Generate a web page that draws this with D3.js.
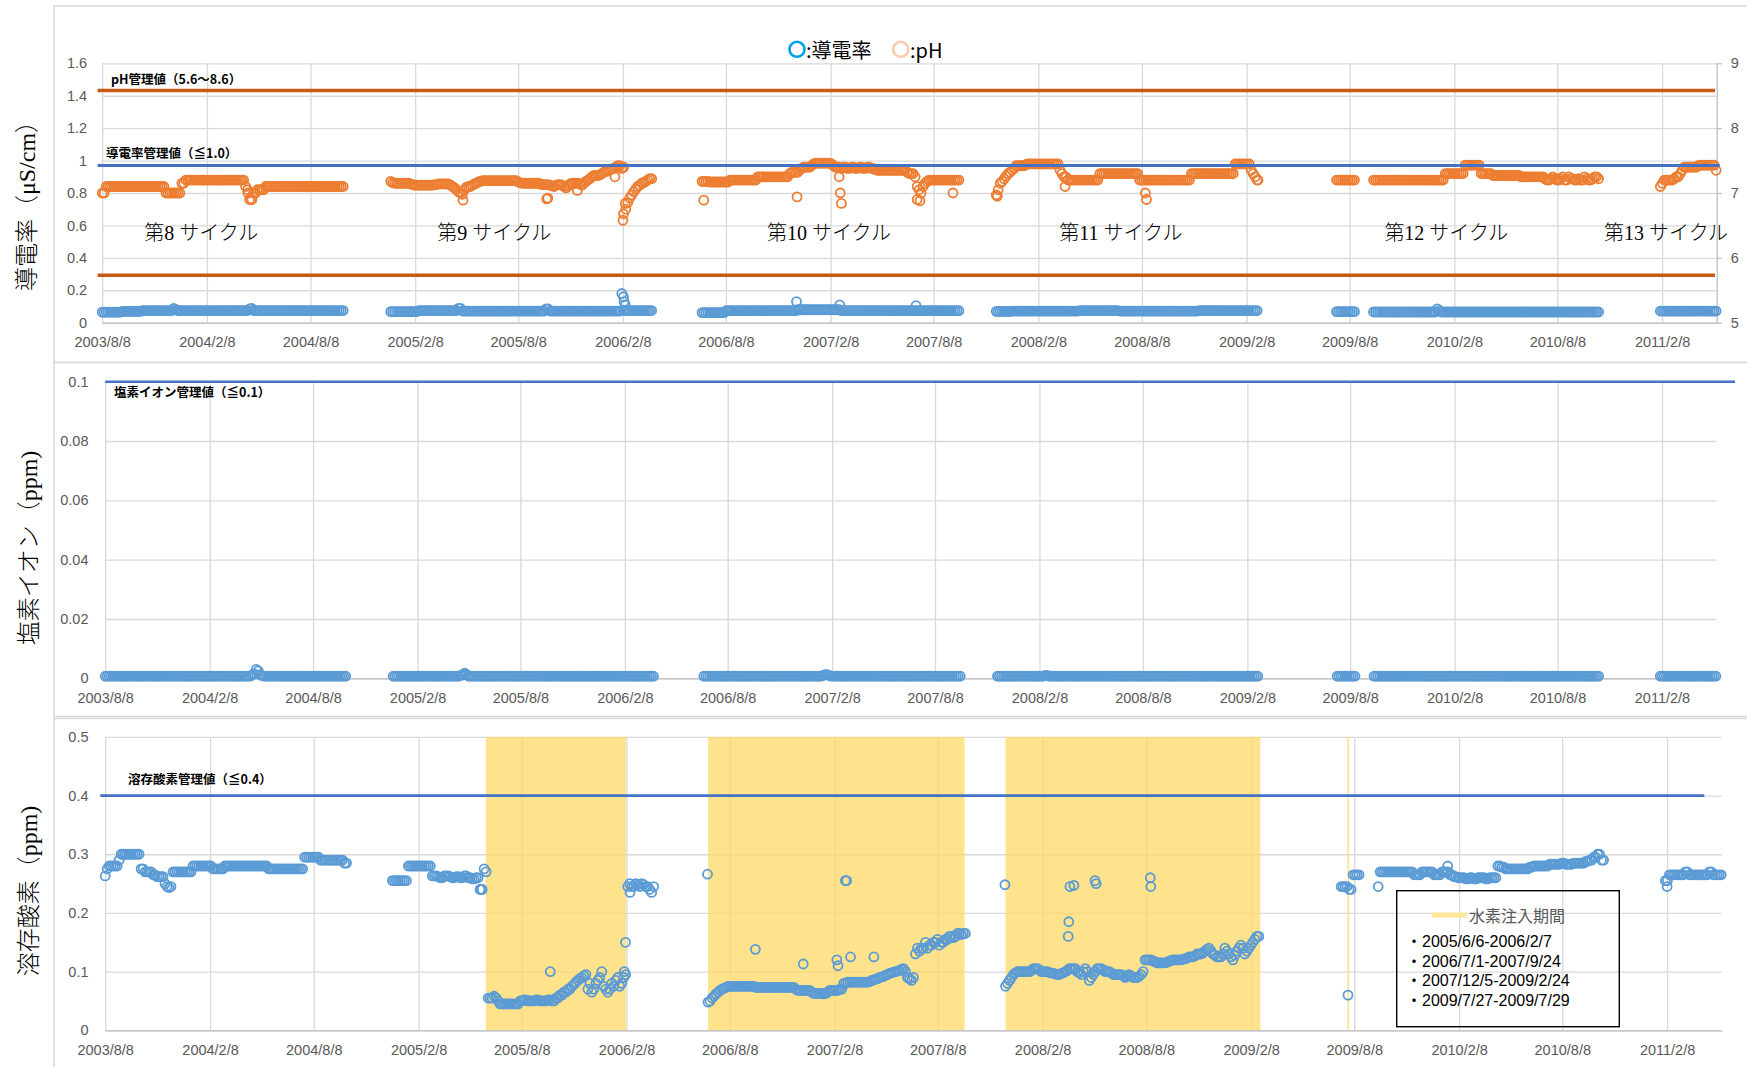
<!DOCTYPE html>
<html><head><meta charset="utf-8">
<script src="https://cdn.jsdelivr.net/npm/d3@7"></script>
<style>body{margin:0;background:#fff}svg{display:block}</style>
</head><body>
<svg id="c" width="1747" height="1067"></svg>
<script>
// ---------------- DATA ----------------
const xTickLabels = ["2003/8/8","2004/2/8","2004/8/8","2005/2/8","2005/8/8","2006/2/8","2006/8/8","2007/2/8","2007/8/8","2008/2/8","2008/8/8","2009/2/8","2009/8/8","2010/2/8","2010/8/8","2011/2/8"];
const xDomain = ["2003-08-08","2011-05-15"];
const condTicks = [0,0.2,0.4,0.6,0.8,1,1.2,1.4,1.6];
const phTicks = [5,6,7,8,9];
const clTicks = [0,0.02,0.04,0.06,0.08,0.1];
const doTicks = [0,0.1,0.2,0.3,0.4,0.5];
const SAMPLE_DAYS = 3.5;

// measurement runs (one reading every SAMPLE_DAYS from each start date)
const segStarts = ["2003-08-08","2004-12-27","2006-06-27","2007-11-26","2009-07-16","2009-09-19","2011-02-05"];
const phValues = [
 [7.0,7.0,7.1,7.1,7.1,7.1,7.1,7.1,7.1,7.1,
  7.1,7.1,7.1,7.1,7.1,7.1,7.1,7.1,7.1,7.1,
  7.1,7.1,7.1,7.1,7.1,7.1,7.1,7.1,7.1,7.1,
  7.1,7.1,7.0,7.0,7.0,7.0,7.0,7.0,7.0,7.0,
  7.15,7.15,7.2,7.2,7.2,7.2,7.2,7.2,7.2,7.2,
  7.2,7.2,7.2,7.2,7.2,7.2,7.2,7.2,7.2,7.2,
  7.2,7.2,7.2,7.2,7.2,7.2,7.2,7.2,7.2,7.2,
  7.2,7.2,7.1,7.05,6.9,6.9,7.0,7.0,7.05,7.05,
  7.05,7.05,7.1,7.1,7.1,7.1,7.1,7.1,7.1,7.1,
  7.1,7.1,7.1,7.1,7.1,7.1,7.1,7.1,7.1,7.1,
  7.1,7.1,7.1,7.1,7.1,7.1,7.1,7.1,7.1,7.1,
  7.1,7.1,7.1,7.1,7.1,7.1,7.1,7.1,7.1,7.1,
  7.1,7.1],
 [7.18,7.16,7.15,7.15,7.15,7.15,7.15,7.15,7.15,7.15,
  7.14,7.13,7.12,7.12,7.12,7.12,7.12,7.12,7.12,7.12,
  7.12,7.12,7.13,7.13,7.14,7.14,7.14,7.14,7.14,7.14,
  7.12,7.1,7.08,7.05,7.02,7.0,6.98,7.05,7.09,7.1,
  7.10,7.12,7.14,7.15,7.17,7.18,7.19,7.19,7.19,7.19,
  7.19,7.19,7.19,7.19,7.19,7.19,7.19,7.19,7.19,7.19,
  7.19,7.19,7.19,7.19,7.17,7.16,7.15,7.15,7.15,7.15,
  7.15,7.15,7.15,7.15,7.15,7.14,7.13,7.13,7.13,7.13,
  7.12,7.11,7.10,7.12,7.13,7.13,7.12,7.1,7.08,7.11,
  7.14,7.15,7.15,7.15,7.15,7.14,7.12,7.15,7.18,7.2,
  7.22,7.25,7.27,7.27,7.27,7.28,7.30,7.32,7.33,7.35,
  7.36,7.37,7.38,7.4,7.42,7.42,7.38,7.4,6.75,6.85,
  6.92,6.97,7.02,7.06,7.10,7.12,7.15,7.16,7.18,7.2,
  7.22,7.22],
 [7.18,7.18,7.18,7.18,7.17,7.17,7.17,7.17,7.17,7.17,
  7.17,7.17,7.17,7.17,7.2,7.2,7.2,7.2,7.2,7.2,
  7.2,7.2,7.2,7.2,7.2,7.2,7.2,7.2,7.25,7.25,
  7.25,7.25,7.25,7.25,7.25,7.25,7.25,7.25,7.25,7.25,
  7.25,7.25,7.25,7.25,7.3,7.32,7.32,7.32,7.32,7.35,
  7.38,7.4,7.4,7.4,7.4,7.42,7.45,7.46,7.46,7.46,
  7.46,7.46,7.46,7.46,7.46,7.45,7.42,7.4,7.4,7.4,
  7.38,7.4,7.4,7.38,7.38,7.4,7.4,7.38,7.38,7.4,
  7.4,7.38,7.38,7.4,7.4,7.38,7.38,7.36,7.35,7.35,
  7.35,7.35,7.35,7.35,7.35,7.35,7.35,7.35,7.35,7.35,
  7.35,7.35,7.35,7.32,7.3,7.3,7.3,7.25,7.1,7.05,
  7.0,7.1,7.15,7.18,7.2,7.2,7.2,7.2,7.2,7.2,
  7.2,7.2,7.2,7.2,7.2,7.2,7.2,7.2,7.2,7.2],
 [6.97,7.05,7.15,7.18,7.22,7.26,7.3,7.32,7.35,7.38,
  7.42,7.42,7.42,7.42,7.42,7.44,7.45,7.45,7.45,7.45,
  7.45,7.45,7.45,7.45,7.45,7.45,7.45,7.45,7.45,7.45,
  7.45,7.45,7.35,7.3,7.25,7.25,7.2,7.2,7.2,7.2,
  7.2,7.2,7.2,7.2,7.2,7.2,7.2,7.2,7.2,7.2,
  7.2,7.2,7.3,7.3,7.3,7.3,7.3,7.3,7.3,7.3,
  7.3,7.3,7.3,7.3,7.3,7.3,7.3,7.3,7.3,7.3,
  7.3,7.3,7.2,7.2,7.2,7.2,7.2,7.2,7.2,7.2,
  7.2,7.2,7.2,7.2,7.2,7.2,7.2,7.2,7.2,7.2,
  7.2,7.2,7.2,7.2,7.2,7.2,7.2,7.2,7.3,7.3,
  7.3,7.3,7.3,7.3,7.3,7.3,7.3,7.3,7.3,7.3,
  7.3,7.3,7.3,7.3,7.3,7.3,7.3,7.3,7.3,7.3,
  7.45,7.45,7.45,7.45,7.45,7.45,7.45,7.45,7.35,7.3,
  7.25,7.2],
 [7.2,7.2,7.2,7.2,7.2,7.2,7.2,7.2,7.2,7.2],
 [7.2,7.2,7.2,7.2,7.2,7.2,7.2,7.2,7.2,7.2,
  7.2,7.2,7.2,7.2,7.2,7.2,7.2,7.2,7.2,7.2,
  7.2,7.2,7.2,7.2,7.2,7.2,7.2,7.2,7.2,7.2,
  7.2,7.2,7.2,7.2,7.2,7.2,7.3,7.3,7.3,7.3,
  7.3,7.3,7.3,7.3,7.3,7.3,7.43,7.43,7.43,7.43,
  7.43,7.43,7.43,7.43,7.3,7.3,7.3,7.3,7.3,7.3,
  7.27,7.27,7.27,7.27,7.27,7.27,7.27,7.27,7.27,7.27,
  7.27,7.27,7.27,7.27,7.25,7.25,7.25,7.25,7.25,7.25,
  7.25,7.25,7.25,7.25,7.25,7.25,7.22,7.2,7.2,7.22,
  7.25,7.22,7.2,7.2,7.22,7.25,7.2,7.2,7.25,7.22,
  7.22,7.2,7.2,7.22,7.2,7.2,7.25,7.22,7.2,7.2,
  7.22,7.25,7.25,7.22],
 [7.1,7.15,7.2,7.2,7.2,7.2,7.2,7.22,7.25,7.25,
  7.3,7.35,7.4,7.4,7.4,7.4,7.4,7.4,7.4,7.42,
  7.43,7.43,7.43,7.43,7.43,7.43,7.43,7.43,7.35]
];
const condValues = [
 [.065,.065,.065,.065,.065,.065,.065,.065,.065,.065,
  .07,.07,.07,.07,.07,.07,.07,.07,.07,.07,
  .075,.075,.075,.075,.075,.075,.075,.075,.075,.075,
  .075,.075,.075,.075,.075,.075,.088,.08,.075,.075,
  .075,.075,.075,.075,.075,.075,.075,.075,.075,.075,
  .075,.075,.075,.075,.075,.075,.075,.075,.075,.075,
  .075,.075,.075,.075,.075,.075,.075,.075,.075,.075,
  .075,.075,.075,.075,.085,.088,.075,.075,.075,.075,
  .075,.075,.075,.075,.075,.075,.075,.075,.075,.075,
  .075,.075,.075,.075,.075,.075,.075,.075,.075,.075,
  .075,.075,.075,.075,.075,.075,.075,.075,.075,.075,
  .075,.075,.075,.075,.075,.075,.075,.075,.075,.075,
  .075,.075],
 [.068,.068,.068,.068,.068,.068,.068,.068,.068,.068,
  .068,.068,.068,.068,.075,.075,.075,.075,.075,.075,
  .075,.075,.075,.075,.075,.075,.075,.075,.075,.075,
  .075,.075,.075,.075,.088,.088,.072,.072,.072,.072,
  .072,.072,.072,.072,.072,.072,.072,.072,.072,.072,
  .072,.072,.072,.072,.072,.072,.072,.072,.072,.072,
  .072,.072,.072,.072,.072,.072,.072,.072,.072,.072,
  .072,.072,.072,.072,.072,.072,.072,.072,.085,.085,
  .072,.072,.072,.072,.072,.072,.072,.072,.072,.072,
  .072,.072,.072,.072,.072,.072,.072,.072,.072,.072,
  .072,.072,.072,.072,.072,.072,.072,.072,.072,.072,
  .072,.072,.072,.072,.072,.072,.18,.075,.075,.075,
  .075,.075,.075,.075,.075,.075,.075,.075,.075,.075,
  .075,.075],
 [.062,.062,.062,.062,.062,.062,.062,.062,.062,.062,
  .062,.062,.074,.074,.074,.074,.074,.074,.074,.074,
  .074,.074,.074,.074,.074,.074,.074,.074,.074,.074,
  .074,.074,.074,.074,.074,.074,.074,.074,.074,.074,
  .074,.074,.074,.074,.074,.074,.074,.074,.08,.08,
  .08,.08,.08,.08,.08,.08,.08,.08,.08,.08,
  .08,.08,.08,.08,.08,.08,.08,.08,.08,.08,
  .074,.074,.074,.074,.074,.074,.074,.074,.074,.074,
  .074,.074,.074,.074,.074,.074,.074,.074,.074,.074,
  .074,.074,.074,.074,.074,.074,.074,.074,.074,.074,
  .074,.074,.074,.074,.074,.074,.074,.074,.074,.074,
  .074,.074,.074,.074,.074,.074,.074,.074,.074,.074,
  .074,.074,.074,.074,.074,.074,.074,.074,.074,.074],
 [.07,.07,.07,.07,.07,.07,.07,.07,.072,.072,
  .072,.072,.072,.072,.072,.072,.072,.072,.072,.072,
  .072,.072,.072,.072,.072,.072,.072,.072,.072,.072,
  .072,.072,.072,.072,.072,.072,.072,.072,.072,.072,
  .072,.072,.075,.075,.075,.075,.075,.075,.075,.075,
  .075,.075,.075,.075,.075,.075,.075,.075,.075,.075,
  .075,.075,.072,.072,.072,.072,.072,.072,.072,.072,
  .072,.072,.072,.072,.072,.072,.072,.072,.072,.072,
  .072,.072,.072,.072,.072,.072,.072,.072,.072,.072,
  .072,.072,.072,.072,.072,.072,.072,.072,.072,.072,
  .072,.072,.075,.075,.075,.075,.075,.075,.075,.075,
  .075,.075,.075,.075,.075,.075,.075,.075,.075,.075,
  .075,.075,.075,.075,.075,.075,.075,.075,.075,.075,
  .075,.075],
 [.068,.068,.068,.068,.068,.068,.068,.068,.068,.068],
 [.066,.066,.066,.066,.066,.066,.066,.066,.066,.066,
  .066,.066,.066,.066,.066,.066,.066,.066,.066,.066,
  .066,.066,.066,.066,.066,.066,.066,.066,.066,.066,
  .066,.066,.085,.075,.066,.066,.066,.066,.066,.066,
  .066,.066,.066,.066,.066,.066,.066,.066,.066,.066,
  .066,.066,.066,.066,.066,.066,.066,.066,.066,.066,
  .066,.066,.066,.066,.066,.066,.066,.066,.066,.066,
  .066,.066,.066,.066,.066,.066,.066,.066,.066,.066,
  .066,.066,.066,.066,.066,.066,.066,.066,.066,.066,
  .066,.066,.066,.066,.066,.066,.066,.066,.066,.066,
  .066,.066,.066,.066,.066,.066,.066,.066,.066,.066,
  .066,.066,.066,.066],
 [.072,.072,.072,.072,.072,.072,.072,.072,.072,.072,
  .072,.072,.072,.072,.072,.072,.072,.072,.072,.072,
  .072,.072,.072,.072,.072,.072,.072,.072,.072]
];
const clValues = [
 [.0007,.0007,.0007,.0007,.0007,.0007,.0007,.0007,.0007,.0007,
  .0007,.0007,.0007,.0007,.0007,.0007,.0007,.0007,.0007,.0007,
  .0007,.0007,.0007,.0007,.0007,.0007,.0007,.0007,.0007,.0007,
  .0007,.0007,.0007,.0007,.0007,.0007,.0007,.0007,.0007,.0007,
  .0007,.0007,.0007,.0007,.0007,.0007,.0007,.0007,.0007,.0007,
  .0007,.0007,.0007,.0007,.0007,.0007,.0007,.0007,.0007,.0007,
  .0007,.0007,.0007,.0007,.0007,.0007,.0007,.0007,.0007,.0007,
  .0007,.0007,.0007,.0007,.0012,.0015,.003,.0025,.0012,.0009,
  .0007,.0007,.0007,.0007,.0007,.0007,.0007,.0007,.0007,.0007,
  .0007,.0007,.0007,.0007,.0007,.0007,.0007,.0007,.0007,.0007,
  .0007,.0007,.0007,.0007,.0007,.0007,.0007,.0007,.0007,.0007,
  .0007,.0007,.0007,.0007,.0007,.0007,.0007,.0007,.0007,.0007,
  .0007,.0007],
 [.0007,.0007,.0007,.0007,.0007,.0007,.0007,.0007,.0007,.0007,
  .0007,.0007,.0007,.0007,.0007,.0007,.0007,.0007,.0007,.0007,
  .0007,.0007,.0007,.0007,.0007,.0007,.0007,.0007,.0007,.0007,
  .0007,.0007,.0007,.0007,.001,.0012,.0017,.0012,.0007,.0007,
  .0007,.0007,.0007,.0007,.0007,.0007,.0007,.0007,.0007,.0007,
  .0007,.0007,.0007,.0007,.0007,.0007,.0007,.0007,.0007,.0007,
  .0007,.0007,.0007,.0007,.0007,.0007,.0007,.0007,.0007,.0007,
  .0007,.0007,.0007,.0007,.0007,.0007,.0007,.0007,.0007,.0007,
  .0007,.0007,.0007,.0007,.0007,.0007,.0007,.0007,.0007,.0007,
  .0007,.0007,.0007,.0007,.0007,.0007,.0007,.0007,.0007,.0007,
  .0007,.0007,.0007,.0007,.0007,.0007,.0007,.0007,.0007,.0007,
  .0007,.0007,.0007,.0007,.0007,.0007,.0007,.0007,.0007,.0007,
  .0007,.0007,.0007,.0007,.0007,.0007,.0007,.0007,.0007,.0007,
  .0007,.0007],
 [.0007,.0007,.0007,.0007,.0007,.0007,.0007,.0007,.0007,.0007,
  .0007,.0007,.0007,.0007,.0007,.0007,.0007,.0007,.0007,.0007,
  .0007,.0007,.0007,.0007,.0007,.0007,.0007,.0007,.0007,.0007,
  .0007,.0007,.0007,.0007,.0007,.0007,.0007,.0007,.0007,.0007,
  .0007,.0007,.0007,.0007,.0007,.0007,.0007,.0007,.0007,.0007,
  .0007,.0007,.0007,.0007,.0007,.0007,.0007,.0007,.0007,.0007,
  .001,.0012,.0012,.001,.0007,.0007,.0007,.0007,.0007,.0007,
  .0007,.0007,.0007,.0007,.0007,.0007,.0007,.0007,.0007,.0007,
  .0007,.0007,.0007,.0007,.0007,.0007,.0007,.0007,.0007,.0007,
  .0007,.0007,.0007,.0007,.0007,.0007,.0007,.0007,.0007,.0007,
  .0007,.0007,.0007,.0007,.0007,.0007,.0007,.0007,.0007,.0007,
  .0007,.0007,.0007,.0007,.0007,.0007,.0007,.0007,.0007,.0007,
  .0007,.0007,.0007,.0007,.0007,.0007,.0007,.0007,.0007,.0007],
 [.0007,.0007,.0007,.0007,.0007,.0007,.0007,.0007,.0007,.0007,
  .0007,.0007,.0007,.0007,.0007,.0007,.0007,.0007,.0007,.0007,
  .0007,.0007,.0007,.0007,.001,.001,.0007,.0007,.0007,.0007,
  .0007,.0007,.0007,.0007,.0007,.0007,.0007,.0007,.0007,.0007,
  .0007,.0007,.0007,.0007,.0007,.0007,.0007,.0007,.0007,.0007,
  .0007,.0007,.0007,.0007,.0007,.0007,.0007,.0007,.0007,.0007,
  .0007,.0007,.0007,.0007,.0007,.0007,.0007,.0007,.0007,.0007,
  .0007,.0007,.0007,.0007,.0007,.0007,.0007,.0007,.0007,.0007,
  .0007,.0007,.0007,.0007,.0007,.0007,.0007,.0007,.0007,.0007,
  .0007,.0007,.0007,.0007,.0007,.0007,.0007,.0007,.0007,.0007,
  .0007,.0007,.0007,.0007,.0007,.0007,.0007,.0007,.0007,.0007,
  .0007,.0007,.0007,.0007,.0007,.0007,.0007,.0007,.0007,.0007,
  .0007,.0007,.0007,.0007,.0007,.0007,.0007,.0007,.0007,.0007,
  .0007,.0007],
 [.0007,.0007,.0007,.0007,.0007,.0007,.0007,.0007,.0007,.0007],
 [.0007,.0007,.0007,.0007,.0007,.0007,.0007,.0007,.0007,.0007,
  .0007,.0007,.0007,.0007,.0007,.0007,.0007,.0007,.0007,.0007,
  .0007,.0007,.0007,.0007,.0007,.0007,.0007,.0007,.0007,.0007,
  .0007,.0007,.0007,.0007,.0007,.0007,.0007,.0007,.0007,.0007,
  .0007,.0007,.0007,.0007,.0007,.0007,.0007,.0007,.0007,.0007,
  .0007,.0007,.0007,.0007,.0007,.0007,.0007,.0007,.0007,.0007,
  .0007,.0007,.0007,.0007,.0007,.0007,.0007,.0007,.0007,.0007,
  .0007,.0007,.0007,.0007,.0007,.0007,.0007,.0007,.0007,.0007,
  .0007,.0007,.0007,.0007,.0007,.0007,.0007,.0007,.0007,.0007,
  .0007,.0007,.0007,.0007,.0007,.0007,.0007,.0007,.0007,.0007,
  .0007,.0007,.0007,.0007,.0007,.0007,.0007,.0007,.0007,.0007,
  .0007,.0007,.0007,.0007],
 [.0007,.0007,.0007,.0007,.0007,.0007,.0007,.0007,.0007,.0007,
  .0007,.0007,.0007,.0007,.0007,.0007,.0007,.0007,.0007,.0007,
  .0007,.0007,.0007,.0007,.0007,.0007,.0007,.0007,.0007]
];
const doStarts = ["2003-08-08","2004-12-24","2006-07-01","2007-12-05","2009-07-16","2009-09-19","2011-02-05"];
const doValues = [
 [.263,.275,.28,.28,.28,.28,.28,.29,.3,.3,
  .3,.3,.3,.3,.3,.3,.3,.3,.275,.275,
  .27,.27,.27,.27,.265,.265,.262,.262,.262,.262,
  .25,.245,.243,.245,.27,.27,.27,.27,.27,.27,
  .27,.27,.27,.27,.28,.28,.28,.28,.28,.28,
  .28,.28,.28,.28,.275,.275,.275,.275,.275,.275,
  .28,.28,.28,.28,.28,.28,.28,.28,.28,.28,
  .28,.28,.28,.28,.28,.28,.28,.28,.28,.28,
  .28,.28,.275,.275,.275,.275,.275,.275,.275,.275,
  .275,.275,.275,.275,.275,.275,.275,.275,.275,.275,
  .295,.295,.295,.295,.295,.295,.295,.295,.29,.29,
  .29,.29,.29,.29,.29,.29,.29,.29,.29,.29,
  .285,.285],
 [.255,.255,.255,.255,.255,.255,.255,.255,.28,.28,
  .28,.28,.28,.28,.28,.28,.28,.28,.28,.28,
  .263,.263,.263,.262,.26,.26,.263,.263,.263,.262,
  .26,.26,.262,.262,.26,.26,.263,.263,.26,.26,
  .258,.258,.26,.26,.24,.24,.275,.27,.055,.055,
  .055,.058,.055,.05,.045,.045,.045,.045,.045,.045,
  .045,.045,.045,.045,.05,.05,.052,.052,.05,.05,
  .05,.05,.052,.052,.05,.05,.05,.05,.052,.052,
  .05,.05,.055,.055,.06,.06,.065,.065,.07,.07,
  .075,.078,.082,.085,.088,.09,.093,.095,.07,.08,
  .065,.07,.08,.085,.09,.1,.075,.07,.065,.07,
  .08,.075,.085,.09,.075,.08,.09,.095,.245,.25,
  .245,.245,.25,.248,.245,.25,.248,.245,.245,.24,
  .235,.245],
 [.048,.05,.055,.058,.062,.065,.068,.07,.072,.073,
  .075,.075,.075,.075,.075,.075,.075,.075,.075,.075,
  .075,.075,.075,.075,.073,.073,.073,.073,.073,.073,
  .073,.073,.073,.073,.073,.073,.073,.073,.073,.073,
  .073,.073,.073,.073,.07,.068,.068,.068,.068,.068,
  .068,.068,.065,.063,.063,.063,.063,.063,.062,.063,
  .065,.068,.068,.068,.068,.068,.07,.07,.08,.08,
  .082,.082,.082,.082,.082,.082,.082,.082,.082,.082,
  .082,.083,.085,.086,.087,.088,.09,.091,.092,.094,
  .095,.097,.098,.099,.1,.101,.102,.104,.105,.1,
  .09,.088,.085,.09,.13,.14,.135,.14,.14,.15,
  .14,.145,.145,.15,.15,.155,.145,.15,.15,.155,
  .155,.16,.16,.158,.16,.165,.165,.163,.165,.165],
 [.075,.08,.085,.09,.095,.098,.1,.1,.1,.1,
  .1,.1,.1,.102,.105,.105,.105,.103,.1,.1,
  .1,.1,.098,.098,.097,.096,.095,.095,.097,.098,
  .1,.102,.105,.105,.105,.105,.1,.098,.095,.1,
  .105,.1,.085,.09,.095,.1,.105,.105,.105,.103,
  .1,.1,.1,.098,.095,.095,.095,.095,.095,.093,
  .09,.093,.095,.092,.09,.09,.09,.092,.095,.1,
  .12,.12,.12,.12,.118,.117,.115,.115,.115,.115,
  .115,.116,.118,.119,.12,.12,.12,.12,.12,.121,
  .122,.123,.125,.125,.125,.127,.13,.13,.13,.132,
  .135,.138,.14,.135,.13,.128,.125,.125,.125,.13,
  .14,.135,.13,.125,.12,.128,.135,.14,.145,.14,
  .13,.135,.14,.145,.15,.155,.16,.16],
 [.245,.245,.245,.245,.24,.24,.265,.265,.265,.265],
 [.245,.27,.27,.27,.27,.27,.27,.27,.27,.27,
  .27,.27,.27,.27,.27,.27,.27,.27,.265,.265,
  .265,.265,.27,.27,.27,.27,.27,.27,.265,.265,
  .265,.265,.27,.27,.27,.27,.265,.265,.262,.262,
  .26,.26,.26,.26,.258,.258,.26,.26,.258,.258,
  .26,.26,.26,.26,.258,.258,.26,.26,.26,.26,
  .28,.28,.278,.278,.275,.275,.275,.275,.275,.275,
  .275,.275,.275,.275,.275,.275,.278,.278,.28,.28,
  .28,.28,.28,.28,.28,.28,.283,.283,.283,.283,
  .283,.283,.285,.285,.283,.283,.283,.283,.285,.285,
  .285,.285,.285,.285,.288,.288,.29,.29,.295,.295,
  .3,.3,.29,.29],
 [.255,.255,.265,.265,.265,.265,.265,.265,.265,.265,
  .27,.27,.265,.265,.265,.265,.265,.265,.265,.265,
  .265,.265,.27,.27,.265,.265,.265,.265,.265]
];
// isolated readings
const phExtra = [["2004-04-20",7.0],["2004-04-27",6.9],["2005-05-03",6.89],["2005-09-27",6.91],["2005-09-29",6.92],["2005-11-20",7.04],["2006-01-25",7.25],["2006-02-08",6.58],["2006-02-09",6.68],["2006-02-12",6.84],["2006-06-30",6.89],["2006-12-11",6.94],["2007-02-23",7.25],["2007-02-25",7.0],["2007-02-27",6.84],["2007-07-10",6.9],["2007-07-15",6.88],["2007-09-11",7.0],["2007-11-28",6.95],["2008-03-26",7.1],["2008-08-14",7.0],["2008-08-16",6.9],["2009-02-28",7.2]];
const condExtra = [["2006-02-09",0.16],["2006-02-10",0.13],["2006-02-12",0.11],["2006-12-10",0.13],["2007-02-24",0.11],["2007-07-08",0.105]];
const doExtra = [["2005-05-27",0.24],["2005-05-30",0.24],["2005-09-27",0.1],["2006-02-04",0.1],["2006-02-06",0.15],["2006-02-14",0.235],["2006-06-30",0.266],["2006-09-22",0.138],["2006-12-15",0.113],["2007-02-12",0.12],["2007-02-14",0.11],["2007-02-27",0.255],["2007-03-01",0.255],["2007-03-08",0.125],["2007-04-18",0.125],["2007-12-04",0.248],["2008-03-24",0.16],["2008-03-25",0.185],["2008-03-27",0.245],["2008-04-03",0.247],["2008-05-10",0.255],["2008-05-12",0.25],["2008-08-15",0.26],["2008-08-16",0.245],["2009-07-28",0.06],["2010-01-19",0.28],["2011-02-08",0.245]];
// hydrogen injection periods
const h2Periods = [["2005-06-06","2006-02-07"],["2006-07-01","2007-09-24"],["2007-12-05","2009-02-24"],["2009-07-27","2009-07-29"]];
const h2Labels = ["・2005/6/6-2006/2/7","・2006/7/1-2007/9/24","・2007/12/5-2009/2/24","・2009/7/27-2009/7/29"];
// control values as drawn
const phLimitLines = [8.58, 5.73];
const condLimitLine = 0.97;
const clLimitLine = 0.1;
const doLimitLine = 0.4;
const cycleNames = ["第8 サイクル","第9 サイクル","第10 サイクル","第11 サイクル","第12 サイクル","第13 サイクル"];
const cycleCenters = ["2004-01-29","2005-06-27","2007-02-05","2008-07-02","2010-01-25","2011-02-15"];
const cycleLabelLevel = 0.553;

// ---------------- DRAW ----------------
const svg = d3.select("#c");
const DAY = 86400000;
const toDate = s => { const p = s.split(/[-\/]/).map(Number); return new Date(Date.UTC(p[0], p[1]-1, p[2])); };
const tickDates = xTickLabels.map(toDate);
const fmtTick = d => xTickLabels[tickDates.findIndex(t => +t === +d)];
const runs = (starts, segs) => {
  const out = [];
  segs.forEach((vals, si) => { const t0 = toDate(starts[si]).getTime(); vals.forEach((v, k) => out.push([new Date(t0 + k*SAMPLE_DAYS*DAY), v])); });
  return out;
};
const extra = arr => arr.map(d => [toDate(d[0]), d[1]]);
const TICKF = "'Liberation Sans', Arial, sans-serif";
const JP = "'Noto Sans CJK JP', sans-serif";
const SERIF = "'Liberation Serif', 'Noto Sans CJK JP', serif";
const GRID = "#d9d9d9", AX = "#bfbfbf", TXT = "#595959";
const BLUE = "#5b9bd5", ORANGE = "#ed7d31";

// panel frames
[[6,362.5],[362.5,716.5],[718.5,1080]].forEach(([t,b]) => svg.append("rect").attr("x",54).attr("y",t).attr("width",1720).attr("height",b-t).attr("fill","none").attr("stroke",GRID).attr("stroke-width",1.5));

function panel(xr, yScale, yTicks, yFmt, leftPad, labelY) {
  const g = svg.append("g");
  const [x0, x1] = xr;
  const x = d3.scaleUtc().domain(xDomain.map(toDate)).range(xr);
  const yb = yScale.range()[0], yt = yScale.range()[1];
  g.append("g").attr("transform",`translate(0,${yb})`)
    .call(d3.axisBottom(x).tickValues(tickDates).tickSize(-(yb-yt)).tickFormat(""))
    .call(a => a.select(".domain").remove())
    .call(a => a.selectAll("line").attr("stroke",GRID).attr("stroke-width",1.3));
  g.append("g").attr("transform",`translate(${x0},0)`)
    .call(d3.axisLeft(yScale).tickValues(yTicks).tickSize(-(x1-x0)).tickFormat(""))
    .call(a => a.select(".domain").remove())
    .call(a => a.selectAll("line").attr("stroke",GRID).attr("stroke-width",1.3));
  const under = g.append("g");   // layer for shaded periods (above gridlines)
  const bl = g.append("g").attr("transform",`translate(0,${yb})`)
    .call(d3.axisBottom(x).tickValues(tickDates).tickSize(0).tickSizeOuter(0).tickFormat(fmtTick));
  bl.select(".domain").attr("stroke",AX).attr("stroke-width",1.3);
  bl.selectAll("text").attr("y",labelY).attr("dy","0.35em").attr("fill",TXT).style("font-family",TICKF).style("font-size","14.5px");
  const ll = g.append("g").attr("transform",`translate(${x0},0)`)
    .call(d3.axisLeft(yScale).tickValues(yTicks).tickSize(0).tickPadding(leftPad).tickFormat(yFmt));
  ll.select(".domain").remove();
  ll.selectAll("text").attr("fill",TXT).style("font-family",TICKF).style("font-size","14.5px");
  return {g, x, under};
}
function dots(g, x, y, data, color) {
  g.append("g").selectAll("circle").data(data).join("circle")
    .attr("cx", d => x(d[0])).attr("cy", d => y(d[1])).attr("r",4.5)
    .attr("fill","none").attr("stroke",color).attr("stroke-width",1.8);
}
function hline(g, y, v, xa, xb, color, w) {
  g.append("line").attr("x1",xa).attr("x2",xb).attr("y1",y(v)).attr("y2",y(v)).attr("stroke",color).attr("stroke-width",w);
}
function note(g, x, y, s, size, opts) {
  const t = g.append("text").attr("x",x).attr("y",y).attr("dominant-baseline","central").text(s)
    .style("font-family",(opts&&opts.family)||JP).style("font-size",size+"px").attr("fill",(opts&&opts.fill)||"#000");
  if (opts && opts.weight) t.style("font-weight",opts.weight);
  if (opts && opts.anchor) t.attr("text-anchor",opts.anchor);
  if (opts && opts.rotate) t.attr("transform",`rotate(-90,${x},${y})`).attr("text-anchor","middle");
  return t;
}
const fmtNum = d3.format("~g");

// ---------- Panel 1 : conductivity & pH ----------
const yC = d3.scaleLinear().domain([0,1.6]).range([322.7,63.3]);
const yPH = d3.scaleLinear().domain([5,9]).range([322.7,63.3]);
const P1 = panel([102.2,1716.7], yC, condTicks, fmtNum, 15, 19.5);
const ra = P1.g.append("g").attr("transform",`translate(1716.7,0)`)
  .call(d3.axisRight(yPH).tickValues(phTicks).tickSize(5).tickSizeOuter(0).tickPadding(9).tickFormat(fmtNum));
ra.selectAll("line,.domain").attr("stroke",AX).attr("stroke-width",1.3);
ra.selectAll("text").attr("fill",TXT).style("font-family",TICKF).style("font-size","14.5px");
dots(P1.g, P1.x, yPH, runs(segStarts, phValues).concat(extra(phExtra)), ORANGE);
dots(P1.g, P1.x, yC, runs(segStarts, condValues).concat(extra(condExtra)), BLUE);
phLimitLines.forEach(v => hline(P1.g, yPH, v, 97.6, 1715, "#c55a11", 3.5));
hline(P1.g, yC, condLimitLine, 97.6, 1719.7, "#4472c4", 3);
note(P1.g, 111, yPH(phLimitLines[0]) - 12.4, "pH管理値（5.6～8.6）", 12.5, {weight:700});
note(P1.g, 106, yC(condLimitLine) - 13, "導電率管理値（≦1.0）", 12.5, {weight:700});
cycleNames.forEach((s,i) => note(P1.g, P1.x(toDate(cycleCenters[i])), yC(cycleLabelLevel), s, 20, {family:SERIF, anchor:"middle", weight:300}));
// legend
P1.g.append("circle").attr("cx",797).attr("cy",49.3).attr("r",7.5).attr("fill","none").attr("stroke","#00a0e9").attr("stroke-width",2.6);
note(P1.g, 806, 49.3, ":導電率", 20);
P1.g.append("circle").attr("cx",900.7).attr("cy",49.3).attr("r",7.5).attr("fill","none").attr("stroke","#f8cbad").attr("stroke-width",2.6);
note(P1.g, 910, 49.3, ":pH", 20);
note(P1.g, 27, 200, "導電率（μS/cm）", 24, {family:SERIF, rotate:true, weight:300});

// ---------- Panel 2 : chloride ----------
const yCl = d3.scaleLinear().domain([0,0.1]).range([678.3,381.7]);
const P2 = panel([105.2,1716.5], yCl, clTicks, fmtNum, 16.7, 20);
dots(P2.g, P2.x, yCl, runs(segStarts, clValues), BLUE);
hline(P2.g, yCl, clLimitLine, 105.2, 1735, "#4472c4", 2.6);
note(P2.g, 114, yCl(clLimitLine) + 10, "塩素イオン管理値（≦0.1）", 12.5, {weight:700});
note(P2.g, 28.7, 548, "塩素イオン（ppm)", 24, {family:SERIF, rotate:true, weight:300});

// ---------- Panel 3 : dissolved oxygen ----------
const yDO = d3.scaleLinear().domain([0,0.5]).range([1030.3,736.9]);
const P3 = panel([105.2,1721.8], yDO, doTicks, fmtNum, 16.7, 19.7);
P3.under.selectAll("rect").data(h2Periods).join("rect")
  .attr("x", d => P3.x(toDate(d[0])))
  .attr("width", d => Math.max(1.6, P3.x(toDate(d[1])) - P3.x(toDate(d[0]))))
  .attr("y", yDO(0.5)).attr("height", yDO(0) - yDO(0.5))
  .attr("fill","#ffd966").attr("fill-opacity",0.75);
dots(P3.g, P3.x, yDO, runs(doStarts, doValues).concat(extra(doExtra)), BLUE);
hline(P3.g, yDO, doLimitLine, 100.3, 1704.3, "#4472c4", 2.6);
note(P3.g, 128, yDO(doLimitLine) - 17.4, "溶存酸素管理値（≦0.4）", 12.5, {weight:700});
note(P3.g, 28.7, 891, "溶存酸素（ppm)", 24, {family:SERIF, rotate:true, weight:300});
// period legend box
const lg = P3.g.append("g");
lg.append("rect").attr("x",1396.7).attr("y",890.7).attr("width",222.6).attr("height",136).attr("fill","none").attr("stroke","#000").attr("stroke-width",1.4);
lg.append("line").attr("x1",1431.7).attr("x2",1466.7).attr("y1",915).attr("y2",915).attr("stroke","#ffe699").attr("stroke-width",5);
note(lg, 1469, 915, "水素注入期間", 16, {fill:TXT});
h2Labels.forEach((s,i) => note(lg, 1406, 941.7 + i*19.5, s, 16, {family:"'Liberation Sans','Noto Sans CJK JP',sans-serif"}));
</script>
</body></html>
